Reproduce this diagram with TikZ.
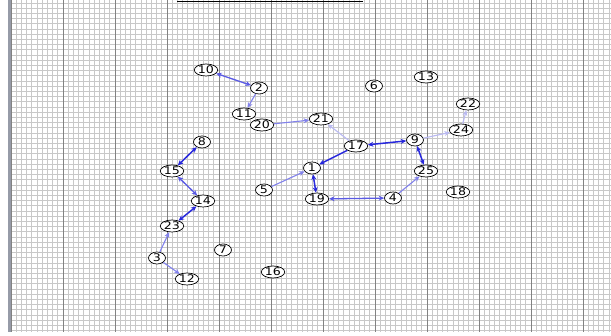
\documentclass[tikz,border=0pt]{standalone}
\usepackage{fontspec}
\newfontfamily\nodefont[FakeStretch=1.2]{DejaVu Sans}
\usetikzlibrary{shapes.geometric, arrows.meta}

\definecolor{edgedark}{RGB}{40,40,220}
\definecolor{edgemid}{RGB}{90,90,228}
\definecolor{edgelight}{RGB}{130,130,236}
\definecolor{edgefaint}{RGB}{185,185,242}
\definecolor{gridminor}{RGB}{200,200,200}
\definecolor{gridmajor}{RGB}{130,130,130}
\definecolor{frameleft}{RGB}{150,155,168}

\begin{document}
\begin{tikzpicture}[
    x=1pt, y=-1pt,
    >={Stealth[length=5.5pt, width=5pt]},
    vert/.style={draw, ellipse, fill=white, line width=0.7pt,
                 font=\nodefont\fontsize{10.5}{10.5}\selectfont,
                 minimum width=17pt, minimum height=12pt,
                 inner xsep=0.3pt, inner ysep=0pt},
    strong/.style={edgedark, line width=1.5pt},
    medium/.style={edgemid, line width=1.3pt},
    weak/.style={edgelight, line width=1.1pt},
    faint/.style={edgefaint, line width=1.1pt},
    minorline/.style={gridminor, line width=0.7pt},
    majorline/.style={gridmajor, line width=0.8pt}
]
\useasboundingbox[fill=white] (0,0) rectangle (611,336);

%---------------- background grid ----------------
\foreach \k in {0,...,63}
  \draw[minorline] (10,{3+5.2*\k}) -- (611,{3+5.2*\k});
\foreach \k in {0,...,115}
  \draw[minorline] ({11+5.2*\k},0) -- ({11+5.2*\k},332);
\foreach \gx in {11,63,...,583}
  \draw[majorline] (\gx,0) -- (\gx,332);
\draw[frameleft, line width=3pt] (9,0) -- (9,332);
\draw[black, line width=1.2pt] (177,1.5) -- (363,1.5);

%---------------- vertices ----------------
\node[vert] (n10) at (206,70)  {10};
\node[vert] (n2)  at (259,88)  {2};
\node[vert] (n11) at (244,114) {11};
\node[vert] (n20) at (262,125) {20};
\node[vert] (n21) at (321,119) {21};
\node[vert] (n6)  at (374,86)  {6};
\node[vert] (n13) at (426,77)  {13};
\node[vert] (n22) at (468,104) {22};
\node[vert] (n24) at (461,130) {24};
\node[vert] (n17) at (356,146) {17};
\node[vert] (n9)  at (415,140) {9};
\node[vert] (n1)  at (312,168) {1};
\node[vert] (n25) at (426,171) {25};
\node[vert] (n5)  at (264,190) {5};
\node[vert] (n19) at (317,199) {19};
\node[vert] (n4)  at (393,198) {4};
\node[vert] (n18) at (458,192) {18};
\node[vert] (n8)  at (202,142) {8};
\node[vert] (n15) at (172,171) {15};
\node[vert] (n14) at (203,201) {14};
\node[vert] (n23) at (172,226) {23};
\node[vert] (n7)  at (223,250) {7};
\node[vert] (n3)  at (157,258) {3};
\node[vert] (n12) at (187,279) {12};
\node[vert] (n16) at (273,272) {16};

%---------------- edges ----------------
\draw[<->, medium] (n10) -- (n2);
\draw[->, weak]    (n2)  -- (n11);
\draw[->, weak]    (n20) -- (n21);
\draw[->, faint]   (n17) -- (n21);
\draw[<->, strong] (n17) -- (n9);
\draw[->, strong]  (n17) -- (n1);
\draw[<->, strong] (n1)  -- (n19);
\draw[->, weak]    (n5)  -- (n1);
\draw[<->, medium] (n19) -- (n4);
\draw[->, weak]    (n4)  -- (n25);
\draw[<->, strong] (n25) -- (n9);
\draw[->, faint]   (n9)  -- (n24);
\draw[->, faint]   (n24) -- (n22);
\draw[<->, strong] (n8)  -- (n15);
\draw[<->, medium] (n15) -- (n14);
\draw[<->, strong] (n14) -- (n23);
\draw[->, weak]    (n3)  -- (n23);
\draw[->, weak]    (n3)  -- (n12);

\end{tikzpicture}
\end{document}
